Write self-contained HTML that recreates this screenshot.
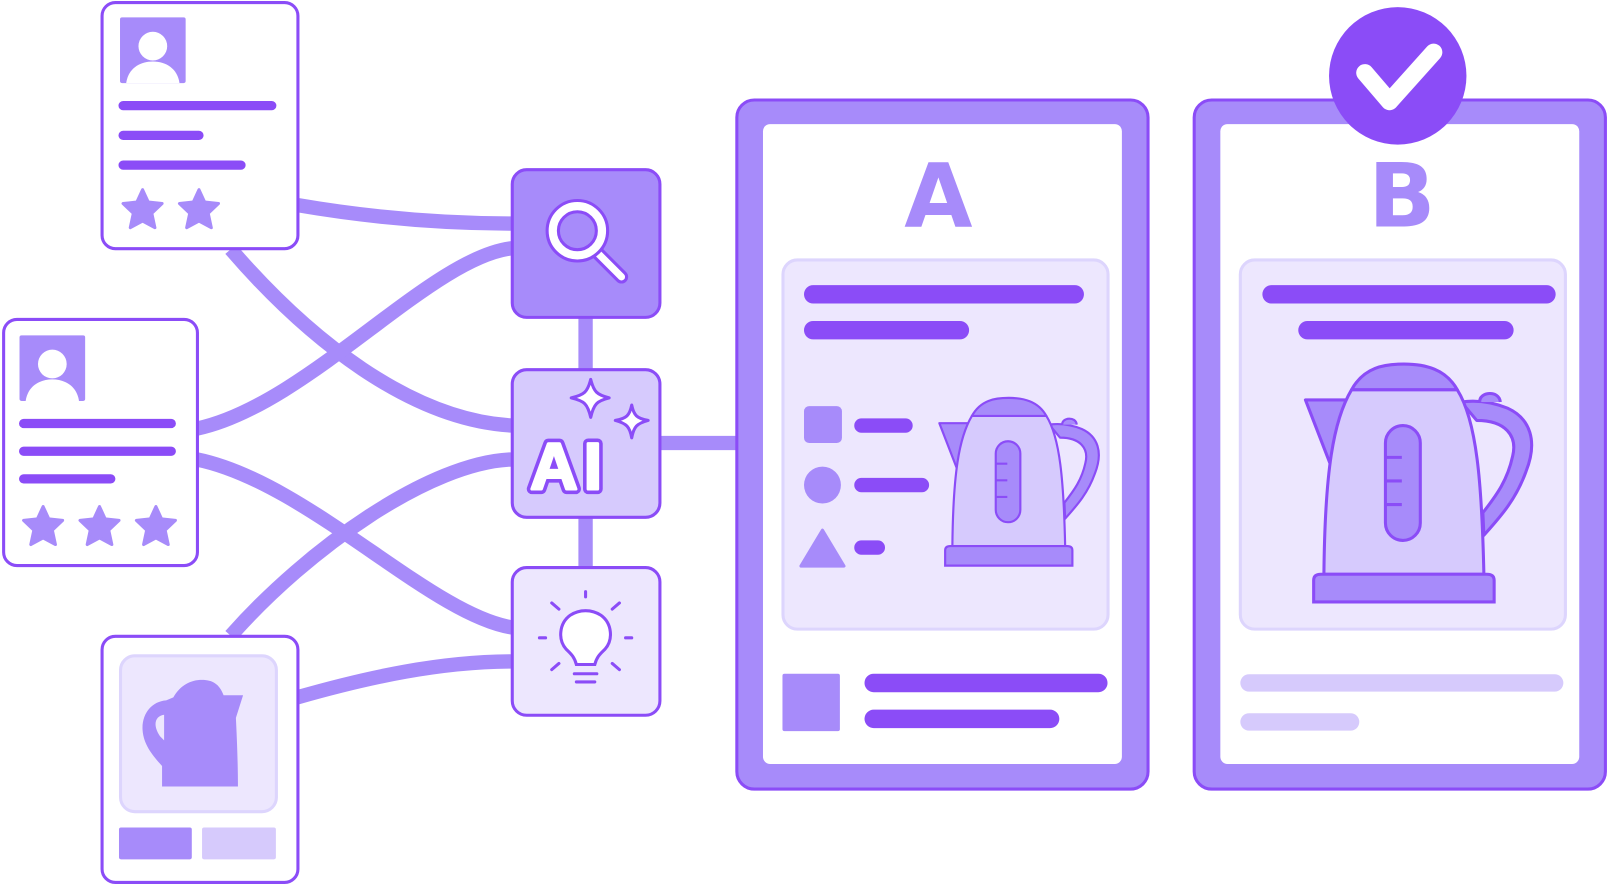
<!DOCTYPE html>
<html><head><meta charset="utf-8"><style>
html,body{margin:0;padding:0;background:#fff;}
svg{display:block;}
</style></head><body>
<svg width="1608" height="886" viewBox="0 0 1568 864" xmlns="http://www.w3.org/2000/svg">
<defs>
<path id="star" d="M0,-20 L5.5,-8 L19,-6.5 L9,3 L12,17 L0,10.5 L-12,17 L-9,3 L-19,-6.5 L-5.5,-8 Z" fill="#a78bfa" stroke="#a78bfa" stroke-width="3" stroke-linejoin="round"/>
<g id="kettle">
  <path d="M1425,392 C1440,390 1455,392 1470,398 C1492,408 1500,430 1488,460 C1478,488 1462,505 1447,522 L1446,500 C1460,482 1470,468 1475,445 C1480,425 1468,410 1440,410 Z" fill="#a78bfa" stroke="#8b4cf7" stroke-width="3" stroke-linejoin="round"/>
  <path d="M1443,392 C1442,382 1462,380 1463,392" fill="#a78bfa" stroke="#8b4cf7" stroke-width="3"/>
  <path d="M1273,390 L1316,390 L1297,452 Z" fill="#a78bfa" stroke="#8b4cf7" stroke-width="3" stroke-linejoin="round"/>
  <path d="M1318,380 C1300,410 1292,460 1291,560 L1447,560 C1445,470 1440,410 1421,380 Z" fill="#d6cafd" stroke="#8b4cf7" stroke-width="3" stroke-linejoin="round"/>
  <path d="M1318,380 C1330,358 1350,355 1369,355 C1390,355 1410,360 1421,380 Z" fill="#a78bfa" stroke="#8b4cf7" stroke-width="3" stroke-linejoin="round"/>
  <rect x="1351" y="415" width="34" height="112" rx="17" fill="#a78bfa" stroke="#8b4cf7" stroke-width="3"/>
  <path d="M1352,446 H1367 M1352,469 H1367 M1352,492 H1367" stroke="#8b4cf7" stroke-width="3"/>
  <path d="M1281,587 L1281,566 Q1281,560 1288,560 L1450,560 Q1457,560 1457,566 L1457,587 Z" fill="#a78bfa" stroke="#8b4cf7" stroke-width="3"/>
</g>
</defs>

<g fill="none" stroke="#a78bfa" stroke-width="14">
  <path d="M290,200 C360,212 430,218 500,218"/>
  <path d="M225,243 C300,330 400,410 500,415"/>
  <path d="M192,418 C300,395 420,250 500,242"/>
  <path d="M192,448 C300,470 420,600 500,612"/>
  <path d="M225,620 C300,535 420,450 500,448"/>
  <path d="M290,680 C360,660 430,645 500,645"/>
  <path d="M571,308 V362 M571,503 V555 M642,432 H720"/>
</g>

<rect x="99.5" y="2.5" width="191" height="240" rx="13" fill="#fff" stroke="#8b4cf7" stroke-width="3"/>
<rect x="117" y="17" width="64" height="64" rx="2" fill="#a78bfa"/>
<circle cx="149" cy="45" r="14" fill="#fff"/>
<path d="M123,81 C125,67 136,60 149,60 C162,60 173,67 175,81 Z" fill="#fff"/>
<g stroke="#8b4cf7" stroke-width="9" stroke-linecap="round">
<path d="M120,103 H265 M120,132 H194 M120,161 H235"/>
</g>
<use href="#star" x="139" y="205"/><use href="#star" x="194" y="205"/>

<rect x="3.5" y="311.5" width="189" height="240" rx="13" fill="#fff" stroke="#8b4cf7" stroke-width="3"/>
<rect x="19" y="327" width="64" height="64" rx="2" fill="#a78bfa"/>
<circle cx="51" cy="355" r="14" fill="#fff"/>
<path d="M25,391 C27,377 38,370 51,370 C64,370 75,377 77,391 Z" fill="#fff"/>
<g stroke="#8b4cf7" stroke-width="9" stroke-linecap="round">
<path d="M23,413 H167 M23,440 H167 M23,467 H108"/>
</g>
<use href="#star" x="42" y="514"/><use href="#star" x="97" y="514"/><use href="#star" x="152" y="514"/>

<rect x="99.5" y="620.5" width="191" height="240" rx="13" fill="#fff" stroke="#8b4cf7" stroke-width="3"/>
<rect x="117.5" y="639.5" width="152" height="152" rx="14" fill="#ede7fe" stroke="#ddd5fd" stroke-width="3"/>
<path d="M169,680 C176,668 186,663 197,663 C207,663 214,667 218,678 L237,678 L230,700 C231,720 232,745 232,767 L158,767 L158,747 C150,738 140,727 139,712 C138,696 148,684 162,683 Z M160,697 C152,698 148,706 156,718 L160,722 Z" fill="#a78bfa" fill-rule="evenodd"/>
<rect x="116" y="807" width="71" height="31" rx="2" fill="#a78bfa"/>
<rect x="197" y="807" width="72" height="31" rx="2" fill="#d6cafc"/>

<rect x="499.5" y="165.5" width="144" height="144" rx="14" fill="#a78bfa" stroke="#8b4cf7" stroke-width="3"/>
<path d="M582,246 L606,270" stroke="#8b4cf7" stroke-width="13" stroke-linecap="round"/>
<path d="M582,246 L606,270" stroke="#fff" stroke-width="7" stroke-linecap="round"/>
<circle cx="563" cy="225" r="24" fill="none" stroke="#8b4cf7" stroke-width="14"/>
<circle cx="563" cy="225" r="24" fill="none" stroke="#fff" stroke-width="8"/>

<rect x="499.5" y="360.5" width="144" height="144" rx="14" fill="#d6cafd" stroke="#8b4cf7" stroke-width="3"/>
<text x="517" y="477" font-family="Liberation Sans, sans-serif" font-weight="bold" font-size="64" fill="#8b4cf7" stroke="#8b4cf7" stroke-width="10" stroke-linejoin="round" letter-spacing="6">AI</text>
<text x="517" y="477" font-family="Liberation Sans, sans-serif" font-weight="bold" font-size="64" fill="#fff" stroke="#fff" stroke-width="3" stroke-linejoin="round" letter-spacing="6">AI</text>
<path d="M576,370 C579,382 582,385 594,388 C582,391 579,394 576,407 C573,394 570,391 557,388 C570,385 573,382 576,370 Z" fill="#fff" stroke="#8b4cf7" stroke-width="3" stroke-linejoin="round"/>
<path d="M616,395 C618,405 621,408 632,410 C621,413 618,416 616,427 C614,416 611,413 600,410 C611,408 614,405 616,395 Z" fill="#fff" stroke="#8b4cf7" stroke-width="3" stroke-linejoin="round"/>

<rect x="499.5" y="553.5" width="144" height="144" rx="14" fill="#ede7fe" stroke="#8b4cf7" stroke-width="3"/>
<g stroke="#8b4cf7" stroke-width="3" stroke-linecap="round" fill="none">
<path d="M571,577 V582 M538,588 L545,594 M604,588 L597,594 M526,622 H532 M610,622 H616 M538,653 L545,647 M604,653 L597,647"/>
<path d="M562,648 L580,648 C582,640 586,637 590,633 C598,624 597,608 586,600 C577,594 565,594 556,600 C545,608 544,624 552,633 C556,637 560,640 562,648 Z" fill="#fff"/>
<path d="M560,657 H582 M562,665 H580"/>
</g>

<rect x="718.5" y="97.5" width="401" height="672" rx="17" fill="#a78bfa" stroke="#8b4cf7" stroke-width="3"/>
<rect x="744" y="121" width="350" height="624" rx="7" fill="#fff"/>
<text x="915" y="221" text-anchor="middle" font-family="DejaVu Sans, sans-serif" font-weight="bold" font-size="86" fill="#a78bfa">A</text>
<rect x="763.5" y="253.5" width="317" height="360" rx="14" fill="#ede7fe" stroke="#ddd5fd" stroke-width="3"/>
<g stroke="#8b4cf7" stroke-linecap="round">
<path d="M793,287 H1048 M793,322 H936" stroke-width="18"/>
<path d="M840,415 H883 M840,473 H899 M840,534 H856" stroke-width="14"/>
<path d="M852,666 H1071 M852,701 H1024" stroke-width="18"/>
</g>
<rect x="784" y="396" width="37" height="36" rx="5" fill="#a78bfa"/>
<circle cx="802" cy="473" r="18" fill="#a78bfa"/>
<path d="M802,517 L823,552 L781,552 Z" fill="#a78bfa" stroke="#a78bfa" stroke-width="3" stroke-linejoin="round"/>
<rect x="763" y="657" width="56" height="56" rx="2" fill="#a78bfa"/>
<use href="#kettle" transform="translate(916,388) scale(0.705) translate(-1273,-355)"/>

<rect x="1164.5" y="97.5" width="401" height="672" rx="17" fill="#a78bfa" stroke="#8b4cf7" stroke-width="3"/>
<rect x="1190" y="121" width="350" height="624" rx="7" fill="#fff"/>
<text x="1367" y="221" text-anchor="middle" font-family="DejaVu Sans, sans-serif" font-weight="bold" font-size="86" fill="#a78bfa">B</text>
<rect x="1209.5" y="253.5" width="317" height="360" rx="14" fill="#ede7fe" stroke="#ddd5fd" stroke-width="3"/>
<g stroke-linecap="round">
<path d="M1240,287 H1508 M1275,322 H1467" stroke="#8b4cf7" stroke-width="18"/>
<path d="M1218,666 H1516 M1218,704 H1317" stroke="#d6cafc" stroke-width="17"/>
</g>
<use href="#kettle"/>

<circle cx="1363" cy="74" r="67" fill="#8b4cf7"/>
<path d="M1331,71 L1355,99 L1398,51" fill="none" stroke="#fff" stroke-width="17" stroke-linecap="round" stroke-linejoin="round"/>
</svg>
</body></html>
